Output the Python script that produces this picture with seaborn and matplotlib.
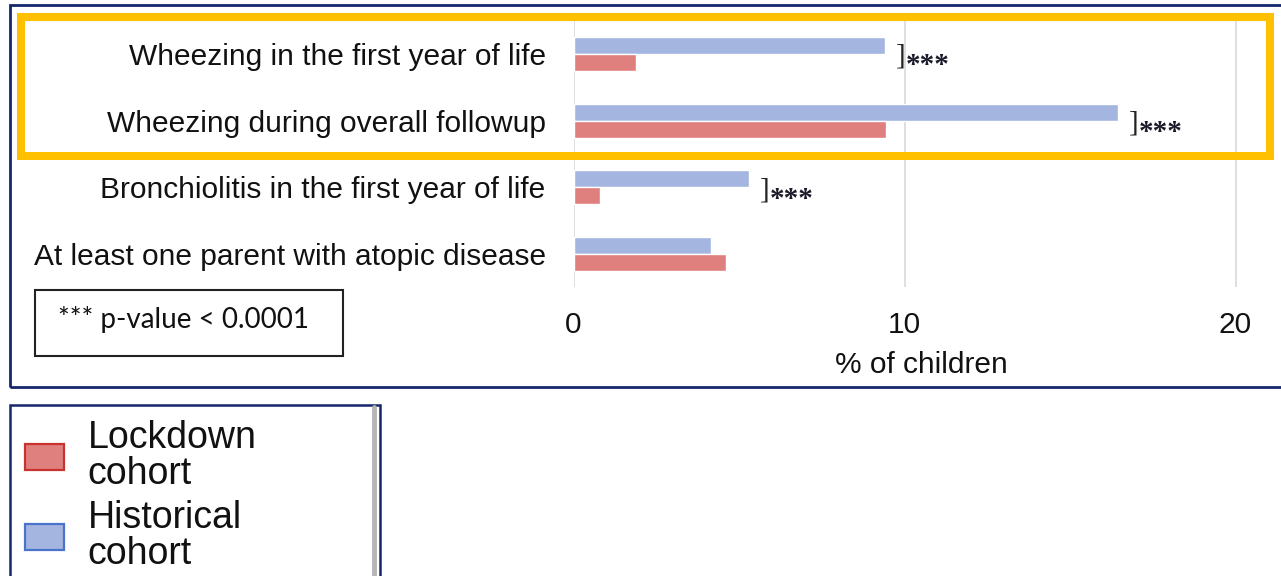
import pandas as pd
import matplotlib.pyplot as plt
import seaborn as sns
from matplotlib.patches import Rectangle, Patch
from matplotlib.lines import Line2D


## values (% of children)
measures = ["Wheezing in the first year of life",
            "Wheezing during overall followup",
            "Bronchiolitis in the first year of life",
            "At least one parent with atopic disease"]
historical = [9.4, 16.45, 5.3, 4.15]
lockdown = [1.9, 9.45, 0.8, 4.6]
significant = [True, True, True, False]
cohorts = ["Historical cohort", "Lockdown cohort"]
legend_order = ["Lockdown cohort", "Historical cohort"]
xticks = [0, 10, 20]
xlabel = "% of children"
note = "*** p-value < 0.0001"

colors = {"Historical cohort": "#a4b6e0", "Lockdown cohort": "#e0807e"}
edge_colors = {"Historical cohort": "#4a74c9", "Lockdown cohort": "#c8332f"}

W, H = 1281, 576


def fx(px):
    return px / W


def fy(py):
    return 1 - py / H


df = pd.DataFrame({
    "measure": measures * 2,
    "cohort": [cohorts[0]] * len(measures) + [cohorts[1]] * len(measures),
    "value": historical + lockdown,
})

sns.set_theme(style="white")
plt.rcParams["font.family"] = ["Liberation Sans", "DejaVu Sans"]

fig = plt.figure(figsize=(W / 100, H / 100), dpi=100)
ax = fig.add_axes([fx(573.5), fy(287.3), 21 * 33.1 / W, 266.6 / H])

sns.barplot(data=df, x="value", y="measure", hue="cohort", hue_order=cohorts,
            order=measures, palette=colors, orient="h", width=0.51,
            saturation=1, errorbar=None, legend=False, ax=ax)

ax.set_xlim(0, 21)
ax.set_xticks(xticks)
ax.set_xlabel(xlabel, fontsize=21.5, labelpad=9, color="#111111")
ax.set_ylabel("")
ax.tick_params(axis="x", length=0, pad=17, labelsize=21.5, labelcolor="#111111")
ax.tick_params(axis="y", length=0, pad=20, labelsize=21.5, labelcolor="#111111")
ax.grid(False)
ax.grid(axis="x", color="#d9d9d9", linewidth=1.2)
ax.set_axisbelow(True)
for s in ax.spines.values():
    s.set_visible(False)

## significance brackets next to the historical bars
for i, (v, sig) in enumerate(zip(historical, significant)):
    if not sig:
        continue
    ax.annotate("]", xy=(v, i), xytext=(8, -7), textcoords="offset points",
                ha="left", va="baseline", fontsize=21, family="Liberation Serif",
                color="#222222")
    ax.annotate("***", xy=(v, i), xytext=(15, -14), textcoords="offset points",
                ha="left", va="baseline", fontsize=21, weight="bold",
                family="Liberation Serif", color="#1a1a2a")

## boxes drawn on the figure
fig.add_artist(Rectangle((fx(10), fy(387)), fx(1290) - fx(10), fy(5) - fy(387),
                         transform=fig.transFigure, fill=False,
                         edgecolor="#14276b", linewidth=2))
fig.add_artist(Rectangle((fx(21), fy(156)), fx(1269.5) - fx(21), fy(17) - fy(156),
                         transform=fig.transFigure, fill=False,
                         edgecolor="#ffc000", linewidth=5.8))
fig.add_artist(Rectangle((fx(35), fy(356)), fx(343) - fx(35), fy(290) - fy(356),
                         transform=fig.transFigure, fill=False,
                         edgecolor="#222222", linewidth=1.5))
fig.text(fx(184), fy(328), note, ha="center", va="baseline", fontsize=20,
         family=["Lato", "DejaVu Sans"], color="#111111")

## legend
handles = [Patch(facecolor=colors[c], edgecolor=edge_colors[c], linewidth=1.6)
           for c in legend_order]
labels = [c.replace(" ", "\n") for c in legend_order]
leg = fig.legend(handles, labels, loc="upper left",
                 bbox_to_anchor=(fx(10), fy(576), 370 / W, (576 - 405) / H),
                 mode="expand", borderaxespad=0, frameon=True, fancybox=False,
                 framealpha=1, prop={"size": 27}, handlelength=1.05,
                 handleheight=0.68, handletextpad=0.62, borderpad=0.4,
                 labelspacing=0.22)
leg.get_frame().set_edgecolor("#14276b")
leg.get_frame().set_linewidth(1.8)
for t in leg.get_texts():
    t.set_linespacing(1.0)
    t.set_color("#111111")
fig.add_artist(Line2D([fx(374), fx(374)], [fy(407), fy(576)],
                      transform=fig.transFigure, color="#b5b5b5", linewidth=3.5,
                      zorder=10))

fig.savefig("out.png", dpi=100)
